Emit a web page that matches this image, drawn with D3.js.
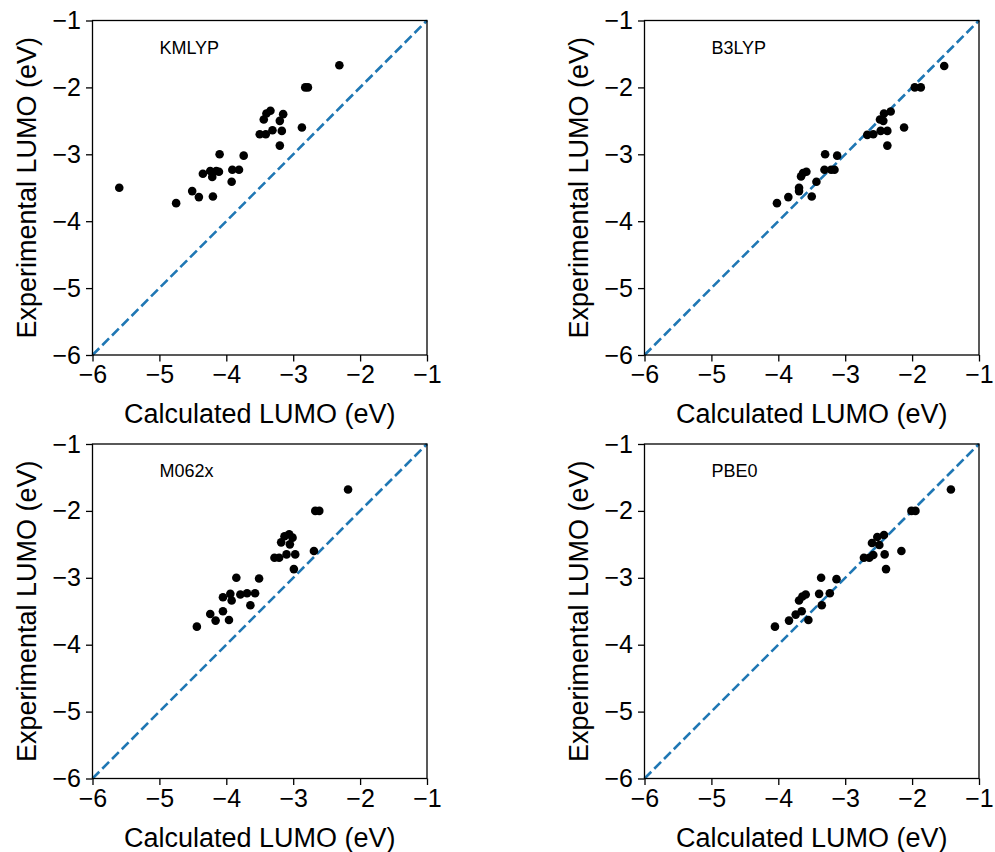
<!DOCTYPE html>
<html>
<head>
<meta charset="utf-8">
<script src="https://cdn.jsdelivr.net/npm/d3@7"></script>
<style>
  body { margin: 0; background: #fff; }
  svg { display: block; font-family: "Liberation Sans", Arial, Helvetica, sans-serif; }
</style>
</head>
<body>
<svg id="chart" width="995" height="852"></svg>
<script>
// --- datos (eV) ---
const methods = ["KMLYP", "B3LYP", "M062x", "PBE0"];
const ticks = [-6, -5, -4, -3, -2, -1];

const kmlypCalc = [-5.60, -4.75, -4.51, -4.41, -4.20, -4.35, -4.24, -4.21, -4.15, -4.11, -4.10, -3.92, -3.91, -3.81, -3.74,
                   -3.50, -3.41, -3.31, -3.44, -3.40, -3.34, -3.20, -3.15, -3.17, -3.20, -2.87, -2.82, -2.78, -2.31];
const kmlypExp  = [-3.50, -3.73, -3.55, -3.64, -3.63, -3.29, -3.25, -3.34, -3.25, -3.26, -3.00, -3.41, -3.23, -3.23, -3.02,
                   -2.70, -2.70, -2.64, -2.48, -2.39, -2.35, -2.50, -2.40, -2.65, -2.87, -2.60, -2.00, -2.00, -1.67];

const b3lypCalc = [-1.52, -1.96, -1.87, -2.42, -2.32, -2.48, -2.43, -2.12, -2.67, -2.58, -2.47, -2.37, -2.37, -3.30,
                   -3.12, -3.31, -3.21, -3.16, -3.43, -3.50, -3.66, -3.63, -3.58, -3.69, -3.69, -3.85, -4.02];
const b3lypExp  = [-1.68, -2.00, -2.00, -2.39, -2.36, -2.48, -2.50, -2.60, -2.71, -2.70, -2.65, -2.65, -2.87, -3.00,
                   -3.02, -3.23, -3.23, -3.23, -3.41, -3.63, -3.33, -3.28, -3.26, -3.50, -3.55, -3.64, -3.73];

const m062xCalc = [-2.18, -2.67, -2.61, -3.06, -3.13, -3.01, -3.18, -3.05, -2.69, -3.28, -3.21, -3.10, -2.97, -2.99,
                   -3.85, -3.51, -3.79, -3.69, -3.57, -3.94, -4.05, -3.92, -3.64, -4.05, -4.24, -4.16, -3.96, -4.44];
const m062xExp  = [-1.68, -2.00, -2.00, -2.35, -2.38, -2.40, -2.47, -2.50, -2.60, -2.70, -2.70, -2.65, -2.65, -2.87,
                   -3.00, -3.01, -3.25, -3.23, -3.23, -3.24, -3.29, -3.34, -3.41, -3.50, -3.54, -3.64, -3.63, -3.73];

const pbe0Calc = [-1.42, -2.01, -1.95, -2.42, -2.52, -2.60, -2.49, -2.16, -2.72, -2.64, -2.58, -2.41, -2.39,
                  -3.36, -3.13, -3.39, -3.23, -3.59, -3.64, -3.69, -3.35, -3.65, -3.74, -3.84, -3.55, -4.05];
const pbe0Exp  = [-1.68, -2.00, -2.00, -2.36, -2.39, -2.48, -2.51, -2.60, -2.70, -2.70, -2.66, -2.65, -2.87,
                  -3.00, -3.02, -3.24, -3.23, -3.25, -3.28, -3.34, -3.41, -3.50, -3.55, -3.64, -3.63, -3.73];

const calcSets = [kmlypCalc, b3lypCalc, m062xCalc, pbe0Calc];
const expSets = [kmlypExp, b3lypExp, m062xExp, pbe0Exp];

// --- disposición de los 4 paneles ---
const size = 334.5;
const lefts = [92.5, 644.5];
const tops = [20.5, 444];

const svg = d3.select("#chart");
const fmt = d => d3.format("d")(d).replace("-", "\u2212");

methods.forEach((name, i) => {
    const x0 = lefts[i % 2], y0 = tops[Math.floor(i / 2)];
    const x = d3.scaleLinear().domain([-6, -1]).range([0, size]);
    const y = d3.scaleLinear().domain([-6, -1]).range([size, 0]);

    const g = svg.append("g").attr("transform", `translate(${x0},${y0})`);

    // línea y = x
    g.append("line")
        .attr("x1", x(-6)).attr("y1", y(-6))
        .attr("x2", x(-1)).attr("y2", y(-1))
        .attr("stroke", "#1f77b4")
        .attr("stroke-width", 2.6)
        .attr("stroke-dasharray", "9.6,4.2");

    // puntos
    const pts = calcSets[i].map((c, k) => ({c: c, e: expSets[i][k]}));
    g.selectAll("circle").data(pts).enter().append("circle")
        .attr("cx", d => x(d.c))
        .attr("cy", d => y(d.e))
        .attr("r", 4.3)
        .attr("fill", "#000");

    // ejes
    const xAxis = g.append("g").attr("transform", `translate(0,${size})`)
        .call(d3.axisBottom(x).tickValues(ticks).tickFormat(fmt).tickSizeInner(6.5).tickSizeOuter(0).tickPadding(4));
    const yAxis = g.append("g")
        .call(d3.axisLeft(y).tickValues(ticks).tickFormat(fmt).tickSizeInner(6.5).tickSizeOuter(0).tickPadding(5));
    [xAxis, yAxis].forEach(a => {
        a.select(".domain").remove();
        a.selectAll(".tick line").attr("stroke", "#000").attr("stroke-width", 1.3);
        a.selectAll(".tick text").attr("font-size", 25).attr("fill", "#000")
            .attr("font-family", "'Liberation Sans', Arial, sans-serif");
    });

    // marco
    g.append("rect")
        .attr("width", size).attr("height", size)
        .attr("fill", "none").attr("stroke", "#000").attr("stroke-width", 1.3);

    // título interior
    g.append("text")
        .attr("x", x(-5)).attr("y", y(-1.5))
        .attr("font-size", 18)
        .text(name);

    // etiquetas
    g.append("text")
        .attr("x", size / 2).attr("y", size + 68)
        .attr("text-anchor", "middle")
        .attr("font-size", 27)
        .text("Calculated LUMO (eV)");
    g.append("text")
        .attr("transform", `translate(-57,${size / 2}) rotate(-90)`)
        .attr("text-anchor", "middle")
        .attr("font-size", 27)
        .text("Experimental LUMO (eV)");
});
</script>
</body>
</html>
